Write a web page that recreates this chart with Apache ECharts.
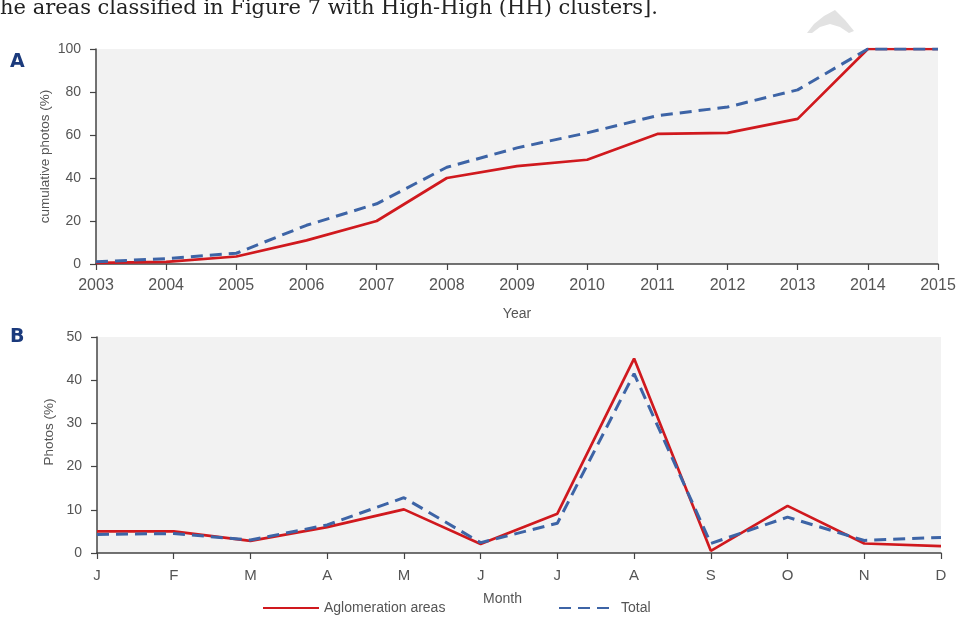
<!DOCTYPE html>
<html><head><meta charset="utf-8">
<script src="https://cdn.jsdelivr.net/npm/echarts@6/dist/echarts.min.js"></script>
<style>html,body{margin:0;padding:0;background:#fff}#c{width:959px;height:617px}</style>
</head><body><div id="c"></div>
<script>
const years = ['2003','2004','2005','2006','2007','2008','2009','2010','2011','2012','2013','2014','2015'];
const cumAglomeration = [0.5, 1, 3.5, 11, 20, 40, 45.5, 48.5, 60.5, 61, 67.5, 100, 100];
const cumTotal = [1, 2.5, 5, 18, 28, 45, 54, 61, 69, 73, 81, 100, 100];
const months = ['J','F','M','A','M','J','J','A','S','O','N','D'];
const monthAglomeration = [5, 5, 2.8, 6, 10.1, 2.1, 9.1, 45, 0.5, 10.9, 2.2, 1.6];
const monthTotal = [4.3, 4.5, 3, 6.5, 12.8, 2.4, 6.9, 41.5, 2.2, 8.3, 2.9, 3.6];

const RED = '#d0191e', BLUE = '#3d64a6', AX = '#444', LBL = '#555';
const FONT = "'Liberation Sans',Arial,sans-serif";
const chart = echarts.init(document.getElementById('c'), null, {renderer: 'canvas'});

function xAx(gi, data, fs, margin, name, gap, pad) {
  return {
    type: 'category', gridIndex: gi, data: data, boundaryGap: false,
    axisLine: {lineStyle: {color: AX, width: 1.5}},
    axisTick: {show: true, alignWithLabel: true, length: 6, lineStyle: {color: AX, width: 1.2}},
    axisLabel: {color: LBL, fontSize: fs, fontFamily: FONT, margin: margin},
    name: name, nameLocation: 'middle', nameGap: gap, nameMoveOverlap: false,
    nameTextStyle: {color: LBL, fontSize: 14, fontFamily: FONT, padding: pad}
  };
}
function yAx(gi, max, interval, name, gap, pad) {
  return {
    type: 'value', gridIndex: gi, min: 0, max: max, interval: interval,
    splitLine: {show: false},
    axisLine: {show: true, lineStyle: {color: AX, width: 1.5}},
    axisTick: {show: true, length: 6, lineStyle: {color: AX, width: 1.2}},
    axisLabel: {color: LBL, fontSize: 14, fontFamily: FONT, margin: 15},
    name: name, nameLocation: 'middle', nameGap: gap, nameRotate: 90, nameMoveOverlap: false,
    nameTextStyle: {color: LBL, fontSize: 13.5, fontFamily: FONT, padding: pad}
  };
}
function line(name, xi, data, color, dashed) {
  return {
    name: name, type: 'line', xAxisIndex: xi, yAxisIndex: xi, data: data,
    symbol: 'none', animation: false, z: dashed ? 3 : 2,
    lineStyle: {color: color, width: dashed ? 3 : 2.7, type: dashed ? [12, 7] : 'solid'},
    itemStyle: {color: color}
  };
}
const legendCommon = {itemHeight: 14, itemGap: 4, padding: 0,
  itemStyle: {opacity: 0, borderWidth: 0},
  textStyle: {color: LBL, fontSize: 14, fontFamily: FONT}};

chart.setOption({
  backgroundColor: '#fff',
  animation: false,
  grid: [
    {left: 96, top: 49, width: 842, height: 215, show: true, backgroundColor: '#f2f2f2', borderWidth: 0},
    {left: 97, top: 337, width: 844, height: 216, show: true, backgroundColor: '#f2f2f2', borderWidth: 0}
  ],
  xAxis: [xAx(0, years, 16, 14, 'Year', 43, [0,0,0,0]), xAx(1, months, 15, 15, 'Month', 39, [0,33,0,0])],
  yAxis: [yAx(0, 100, 20, 'cumulative photos (%)', 44, [0,0,0,0]), yAx(1, 50, 10, 'Photos (%)', 41, [0,0,0,26])],
  legend: [
    Object.assign({data: ['Aglomeration areas'], left: 262, top: 601, itemWidth: 56}, legendCommon),
    Object.assign({data: ['Total'], left: 558, top: 601, itemWidth: 57}, legendCommon)
  ],
  series: [
    line('Aglomeration areas', 0, cumAglomeration, RED, false),
    line('Total', 0, cumTotal, BLUE, true),
    line('Aglomeration areas', 1, monthAglomeration, RED, false),
    line('Total', 1, monthTotal, BLUE, true)
  ],
  graphic: [
    {type: 'text', left: 0, top: -2, style: {text: 'he areas classified in Figure 7 with High-High (HH) clusters].',
      fill: '#222', font: "21px 'DejaVu Serif',serif"}},
    {type: 'text', left: 10, top: 53, style: {text: 'A', fill: '#1b3a7c', font: "bold 19px 'DejaVu Sans','Noto Sans',sans-serif"}},
    {type: 'text', left: 10, top: 328, style: {text: 'B', fill: '#1b3a7c', font: "bold 19px 'DejaVu Sans','Noto Sans',sans-serif"}},
    {type: 'polygon', shape: {points: [[807,33],[814,24],[824,16],[835,10],[845,20],[854,31],[849,33],[840,27],[830,24],[820,27],[812,33]]},
      style: {fill: '#e2e2e2'}}
  ]
});
</script></body></html>
